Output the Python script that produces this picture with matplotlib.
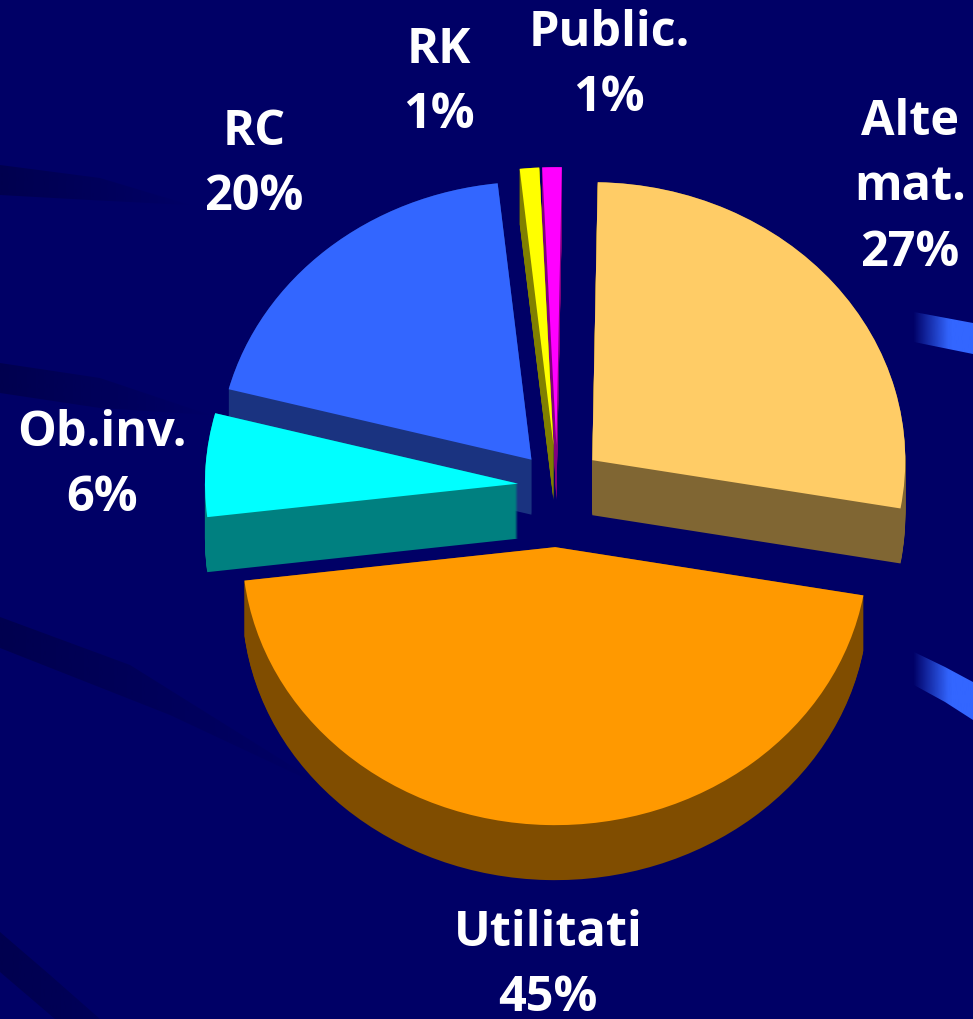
import numpy as np
import matplotlib
matplotlib.use('Agg')
import matplotlib.pyplot as plt
from matplotlib.patches import Polygon

labels = ['Alte\nmat.\n27%', 'Utilitati\n45%', 'Ob.inv.\n6%', 'RC\n20%', 'RK\n1%', 'Public.\n1%']
# slice sizes (they round to the printed labels)
values = [27.5, 45.3, 6, 19.2, 1, 1]
explode = [0.146, 0.22, 0.125, 0.125, 0.147, 0.147]
top_colors = ['#FFCC66', '#FF9900', '#00FFFF', '#3366FF', '#FFFF00', '#FF00FF']
side_colors = ['#806633', '#804D00', '#008080', '#1A3380', '#808000', '#800080']
label_pos = [(910, 188), (548, 966), (102, 466), (254, 165), (439, 83), (609, 66)]

W, H = 973, 1019
BG = '#000066'
# pie centre and radii in pixels
cx, cy, rx, ry, depth = 557, 486, 313, 278, 55


def gradient_band(ax, pts, rgb, x0, x1, a0, a1):
    # band filled with a horizontal fade, clipped to a polygon
    g = np.linspace(0, 1, 256)
    a = np.clip((g * (W - 1) - x0) / (x1 - x0), 0, 1)
    img = np.zeros((1, 256, 4))
    img[..., 0], img[..., 1], img[..., 2] = rgb
    img[0, :, 3] = a0 + (a1 - a0) * a
    im = ax.imshow(img, extent=(0, W, H, 0), aspect='auto', interpolation='bilinear')
    poly = Polygon(pts, closed=True, transform=ax.transData, fc='none', ec='none')
    ax.add_patch(poly)
    im.set_clip_path(poly)


fig = plt.figure(figsize=(W / 100, H / 100), dpi=100, facecolor=BG)

bg = fig.add_axes([0, 0, 1, 1], zorder=0)
bg.set_facecolor(BG)
blue = (0x33 / 255, 0x66 / 255, 1.0)
dark = (0, 0, 0x40 / 255)
gradient_band(bg, [(914, 312), (973, 323), (973, 354), (914, 342)], blue, 914, 950, 0.0, 1.0)
gradient_band(bg, [(914, 652), (945, 667), (973, 682), (973, 720), (945, 702), (914, 685)], blue, 914, 950, 0.0, 1.0)
gradient_band(bg, [(0, 165), (100, 178), (190, 205), (90, 200), (0, 195)], dark, 0, 190, 0.6, 0.0)
gradient_band(bg, [(0, 363), (100, 378), (210, 415), (100, 408), (0, 393)], dark, 0, 210, 0.6, 0.0)
gradient_band(bg, [(0, 617), (130, 665), (330, 790), (170, 715), (0, 648)], dark, 0, 330, 0.6, 0.0)
gradient_band(bg, [(0, 932), (50, 975), (100, 1019), (55, 1019), (0, 972)], dark, 0, 160, 0.6, 0.2)
bg.set_xlim(0, W)
bg.set_ylim(H, 0)
bg.axis('off')

ax = fig.add_axes([0, 0, 1, 1], zorder=1)
ax.patch.set_visible(False)

# side walls: the same pie stacked downwards, then the top face
for d in np.linspace(depth / ry, 0, 56):
    ax.pie(values, explode=explode, colors=side_colors, startangle=89, counterclock=False,
           normalize=True, center=(0, -d), frame=True, wedgeprops={'linewidth': 0})
ax.pie(values, explode=explode, colors=top_colors, startangle=89, counterclock=False,
       normalize=True, frame=True, wedgeprops={'linewidth': 0})

ax.set_aspect('auto')
ax.set_xlim(-cx / rx, (W - cx) / rx)
ax.set_ylim((cy - H) / ry, cy / ry)
ax.axis('off')

for lab, (x, y) in zip(labels, label_pos):
    fig.text(x / W, 1 - y / H, lab, color='white', fontsize=35, fontweight='bold',
             family='Open Sans', ha='center', va='center', linespacing=1.44, zorder=5)

fig.savefig('out.png', dpi=100, facecolor=BG)
